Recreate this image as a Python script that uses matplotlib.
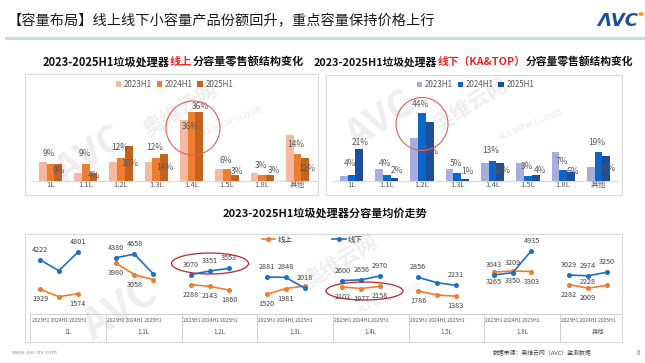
import numpy as np
import matplotlib
matplotlib.use("Agg")
import matplotlib.pyplot as plt
from matplotlib.patches import Ellipse, Circle
from matplotlib.lines import Line2D

plt.rcParams['font.family'] = ['Noto Sans CJK SC', 'DejaVu Sans']

W, H = 645, 363

# ---- data ----
caps = ['1L', '1.1L', '1.2L', '1.3L', '1.4L', '1.5L', '1.8L', '其他']
years = ['2023H1', '2024H1', '2025H1']

# online retail share by capacity (%)
on_23 = [10, 4, 10, 10, 32, 6, 4, 24]
on_24 = [9, 9, 12, 12, 36, 6, 3, 14]
on_25 = [9, 4, 18, 14, 36, 3, 3, 12]

# offline (KA&TOP) retail share by capacity (%)
off_23 = [3, 8, 28, 8, 12, 12, 19, 9]
off_24 = [4, 4, 44, 5, 13, 3, 7, 19]
off_25 = [21, 2, 38, 1, 12, 4, 6, 16]

# average price per capacity, 2023H1 / 2024H1 / 2025H1
price_on = [1929, 1343, 1574, 3980, 3058, 2669, 2288, 2143, 1860, 1520, 1981, 2170,
            2102, 1977, 2158, 1786, 1474, 1383, 3265, 3350, 3303, 2282, 2009, 2228]
price_off = [4222, 3370, 4801, 4380, 4658, 3112, 3070, 3351, 3553, 2881, 2848, 2018,
             2600, 2656, 2970, 2856, 2436, 2231, 3043, 3209, 4935, 3029, 2974, 3250]
# which points carry a value label in the source
show_on = [1, 0, 1, 1, 1, 0, 1, 1, 1, 1, 1, 0, 1, 1, 1, 1, 0, 1, 1, 1, 1, 1, 1, 1]
show_off = [1, 0, 1, 1, 1, 0, 1, 1, 1, 1, 1, 1, 1, 1, 1, 1, 0, 1, 1, 1, 1, 1, 1, 1]

# ---- styling ----
orange_cols = ['#F4B9A0', '#ED7D31', '#C5631E']
blue_cols = ['#A7AEDD', '#0E66C8', '#1D4F9C']
lbl_col = '#595959'
grid_col = '#D9D9D9'
wm_col = '#EEEEEE'
# label offsets in pixels (positive = up)
on_dy24 = [10, 10, 10, 10, -15, 9, 10, 10]
on_dy25 = [-7, -2, -17, -13, 5, 4, 5, -11]
on_dx25 = [1, 1, 1, 1, 1, 2, 4, 1]
off_dy24 = [11, 11, 9, 10, 10, 10, 9, 9]
off_dy25 = [6, 7, -29, 8, -8, 4, 0, -12]
off_dx25 = [1, 2, 1, 2, 1, 4, 2, 1]

PT = 0.72  # points per pixel at dpi 100


def box(x0, y0, x1, y1):
    return [x0 / W, 1 - y1 / H, (x1 - x0) / W, (y1 - y0) / H]


def fx(x):
    return x / W


def fy(y):
    return 1 - y / H


fig = plt.figure(figsize=(W / 100, H / 100), dpi=100)
fig.patch.set_facecolor('white')
renderer = fig.canvas.get_renderer()


def rich_text(x0, x1, y, parts, fs, **kw):
    # consecutive pieces of text in different colours, scaled to span x0..x1
    tmp = [fig.text(0, 0, s, fontsize=fs, **kw) for s, c in parts]
    total = sum(t.get_window_extent(renderer).width for t in tmp)
    for t in tmp:
        t.remove()
    fs = fs * (x1 - x0) / total
    cx = fx(x0)
    for s, c in parts:
        t = fig.text(cx, fy(y), s, color=c, ha='left', va='center', fontsize=fs, **kw)
        cx += t.get_window_extent(renderer).width / fig.bbox.width


# ---- header ----
rich_text(8, 435, 21, [('【容量布局】线上线下小容量产品份额回升，重点容量保持价格上行', '#1a1a1a')], 10.5)
fig.add_artist(Line2D([fx(6), fx(645)], [fy(37.5), fy(37.5)], color='#C8DCE8', lw=2.2))
fig.text(fx(597), fy(21), 'ΛVC', fontsize=13, fontweight='bold', fontstyle='italic',
         color='#1B4DA1', va='center', family='DejaVu Sans')
fig.add_artist(Circle((fx(641), fy(14)), 2.0 / W, color='#F39A1E', transform=fig.transFigure))

# ---- watermarks (behind the axes) ----
for (x, y, s, fs) in [(90, 155, 'AVC', 28), (180, 110, '奥维云网', 15), (380, 120, 'AVC', 28),
                      (470, 105, '奥维云网', 15), (120, 310, 'AVC', 30), (340, 262, '奥维云网', 15)]:
    fig.text(fx(x), fy(y), s, fontsize=fs, fontweight='bold', color=wm_col, rotation=32,
             ha='center', va='center', zorder=-1)
for (x, y) in [(230, 122), (530, 125), (390, 298)]:
    fig.text(fx(x), fy(y), 'ALL VIEW CLOUD', fontsize=6, fontweight='bold', color=wm_col,
             rotation=22, ha='center', va='center', zorder=-1)

# ---- bar charts ----
rich_text(43, 303, 62, [('2023-2025H1垃圾处理器', '#111111'), ('线上', '#E8262A'),
                        ('分容量零售额结构变化', '#111111')], 8.2, fontweight='bold')
rich_text(314, 633, 62, [('2023-2025H1垃圾处理器', '#111111'), ('线下（KA&TOP）', '#E8262A'),
                         ('分容量零售额结构变化', '#111111')], 8.2, fontweight='bold')


def bar_panel(rect, v23, v24, v25, cols, dy24, dy25, dx25, ppu, legx):
    ax = fig.add_axes(rect)
    ax.patch.set_alpha(0)
    x = np.arange(len(caps))
    bw = 0.22
    for k, (vals, c) in enumerate(zip([v23, v24, v25], cols)):
        ax.bar(x + (k - 1) * bw, vals, bw, color=c, label=years[k], zorder=2)
    for i in range(len(caps)):
        ax.annotate(f'{v24[i]}%', (x[i], v24[i]), xytext=(-1, dy24[i] * PT),
                    textcoords='offset points', ha='center', va='center',
                    fontsize=6, color=lbl_col, zorder=3)
        ax.annotate(f'{v25[i]}%', (x[i] + bw, v25[i]), xytext=(dx25[i] * PT, dy25[i] * PT),
                    textcoords='offset points', ha='center', va='center',
                    fontsize=6, color=lbl_col, zorder=3)
    ax.plot([-0.55, 7.55], [0, 0], color=grid_col, lw=0.8, zorder=1)
    x0, y0, w, h = rect
    ax.set_xlim(-0.72, -0.72 + w * W / 35.3)
    ax.set_ylim(-14 / ppu, -14 / ppu + h * H / ppu)
    ax.set_xticks(x)
    ax.set_xticklabels(caps, fontsize=5.5, color=lbl_col)
    ax.tick_params(axis='x', length=0, pad=-10)
    ax.set_yticks([])
    for sp in ax.spines.values():
        sp.set_color('#DADADA')
        sp.set_linewidth(0.8)
    ax.legend(loc='center', bbox_to_anchor=(legx, 0.917), ncol=3, frameon=False,
              fontsize=5.8, handlelength=0.7, handleheight=0.7, handletextpad=0.3,
              columnspacing=0.6, labelcolor=lbl_col)
    return ax


ax1 = bar_panel(box(25, 74, 318, 195), on_23, on_24, on_25, orange_cols,
                on_dy24, on_dy25, on_dx25, 1.917, 0.51)
ax2 = bar_panel(box(326, 75, 622, 195), off_23, off_24, off_25, blue_cols,
                off_dy24, off_dy25, off_dx25, 1.54, 0.505)

# highlight circles
for (cx, cy, w, h) in [(193, 128, 54, 54), (422, 124, 52, 53)]:
    fig.add_artist(Ellipse((fx(cx), fy(cy)), w / W, h / H, fill=False,
                           edgecolor='#E35D5D', lw=0.8, transform=fig.transFigure, zorder=5))

# ---- price line chart ----
rich_text(223, 427, 213, [('2023-2025H1垃圾处理器分容量均价走势', '#111111')], 8.2,
          fontweight='bold')

ax3 = fig.add_axes(box(25, 234, 622, 342))
ax3.patch.set_alpha(0)
ppx = 78.0  # yuan per pixel
ax3.set_xlim(-0.79, 30.79)
ax3.set_ylim(-(342 - 313.9) * ppx, (313.9 - 234) * ppx)
c_on, c_off = '#ED7D31', '#1F6FC5'
for g in range(len(caps)):
    xs = 4 * g + np.arange(3)
    seg = slice(3 * g, 3 * g + 3)
    ax3.plot(xs, price_on[seg], color=c_on, lw=1.2, marker='o', ms=2.6,
             label='线上' if g == 0 else None)
    ax3.plot(xs, price_off[seg], color=c_off, lw=1.2, marker='o', ms=2.6,
             label='线下' if g == 0 else None)
for i in range(len(price_on)):
    xi = 4 * (i // 3) + i % 3
    if show_on[i]:
        dx, dy = (-19, 3) if i == 23 else (0, -10)
        ax3.annotate(str(price_on[i]), (xi, price_on[i]), xytext=(dx * PT, dy * PT),
                     textcoords='offset points', ha='center', va='center',
                     fontsize=5.2, color='#404040')
    if show_off[i]:
        ax3.annotate(str(price_off[i]), (xi, price_off[i]), xytext=(0, 10 * PT),
                     textcoords='offset points', ha='center', va='center',
                     fontsize=5.2, color='#404040')

# category table under the lines
ax3.plot([-0.5, 30.79], [0, 0], color='#D0D0D0', lw=0.7)
for g in range(len(caps)):
    ax3.plot([4 * g - 0.5, 4 * g - 0.5], [ax3.get_ylim()[0], 0], color='#D0D0D0', lw=0.7)
    ax3.text(4 * g + 1, -(320 - 313.9) * ppx, ' '.join(years), fontsize=3.6,
             color='#555555', ha='center', va='center')
    ax3.text(4 * g + 1.5, -(332 - 313.9) * ppx, caps[g], fontsize=4.5,
             color='#555555', ha='center', va='center')
ax3.set_xticks([])
ax3.set_yticks([])
for sp in ax3.spines.values():
    sp.set_color('#DADADA')
    sp.set_linewidth(0.8)
ax3.legend(loc='center', bbox_to_anchor=(0.481, 0.944), ncol=2, frameon=False,
           fontsize=5.4, handlelength=1.8, handletextpad=0.3, columnspacing=5.3,
           labelcolor='#333333')

for (cx, cy, w, h) in [(210, 263.5, 77, 21), (364.5, 291, 77, 18)]:
    fig.add_artist(Ellipse((fx(cx), fy(cy)), w / W, h / H, fill=False,
                           edgecolor='#B22A2A', lw=0.9, transform=fig.transFigure, zorder=5))

# ---- footer ----
fig.text(fx(12), fy(353), 'www.avc-mr.com', fontsize=4, color='#9A9A9A', va='center')
fig.text(fx(493), fy(353), '数据来源：奥维云网（AVC）监测数据', fontsize=4.2,
         color='#444444', va='center')
fig.text(fx(637), fy(353), '6', fontsize=4.5, color='#777777', va='center')

fig.savefig('out.png', dpi=100)
